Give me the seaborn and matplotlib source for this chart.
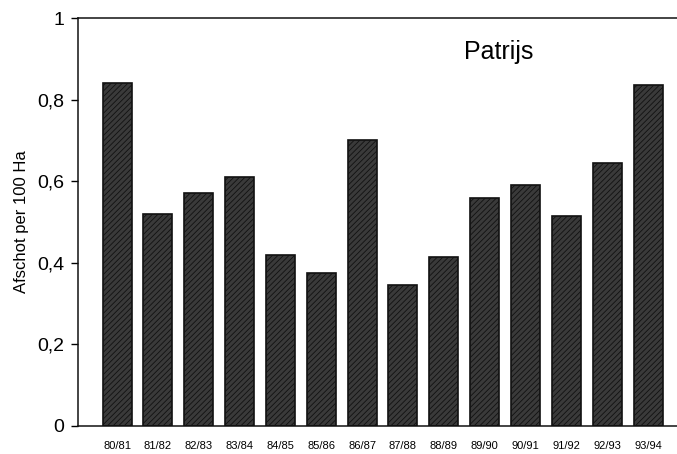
import matplotlib
matplotlib.use("Agg")
import matplotlib.pyplot as plt
import seaborn as sns
import pandas as pd

# Data
seasons = ["80/81", "81/82", "82/83", "83/84", "84/85", "85/86", "86/87",
           "87/88", "88/89", "89/90", "90/91", "91/92", "92/93", "93/94"]
afschot = [0.84, 0.52, 0.57, 0.61, 0.42, 0.375, 0.70,
           0.345, 0.415, 0.56, 0.59, 0.515, 0.645, 0.835]
yticks = [0, 0.2, 0.4, 0.6, 0.8, 1]
ytick_labels = ["0", "0,2", "0,4", "0,6", "0,8", "1"]

df = pd.DataFrame({"seizoen": seasons, "afschot": afschot})

sns.set_style("white")
plt.rcParams["font.family"] = ["Liberation Sans", "DejaVu Sans"]
plt.rcParams["text.color"] = "black"
plt.rcParams["xtick.color"] = "black"
plt.rcParams["ytick.color"] = "black"
plt.rcParams["axes.labelcolor"] = "black"
plt.rcParams["hatch.color"] = "#858585"
plt.rcParams["hatch.linewidth"] = 0.6

fig = plt.figure(figsize=(6.77, 4.54), dpi=100)
ax = fig.add_axes([0.115, 0.062, 0.885, 0.898])

sns.barplot(data=df, x="seizoen", y="afschot", color="#3a3a3a",
            width=0.71, edgecolor="#111111", linewidth=1.2,
            saturation=1, ax=ax)
for patch in ax.patches:
    patch.set_hatch("//////")

ax.set_xlim(-0.96, 13.71)
ax.set_ylim(0, 1)
ax.set_yticks(yticks)
ax.set_yticklabels(ytick_labels, fontsize=14)
ax.tick_params(axis="y", direction="out", length=5, width=1, pad=5, left=True)
ax.tick_params(axis="x", length=0, pad=11, labelsize=8)
ax.set_xlabel("")
ax.set_ylabel("Afschot per 100 Ha", fontsize=12)
ax.yaxis.set_label_coords(-0.082, 0.5)

for side in ["left", "bottom", "top"]:
    ax.spines[side].set_visible(True)
    ax.spines[side].set_color("#111111")
    ax.spines[side].set_linewidth(1.1)
ax.spines["right"].set_visible(False)

ax.text(0.703, 0.917, "Patrijs", transform=ax.transAxes, fontsize=18,
        ha="center", va="center")

fig.savefig("out.png", dpi=100)
